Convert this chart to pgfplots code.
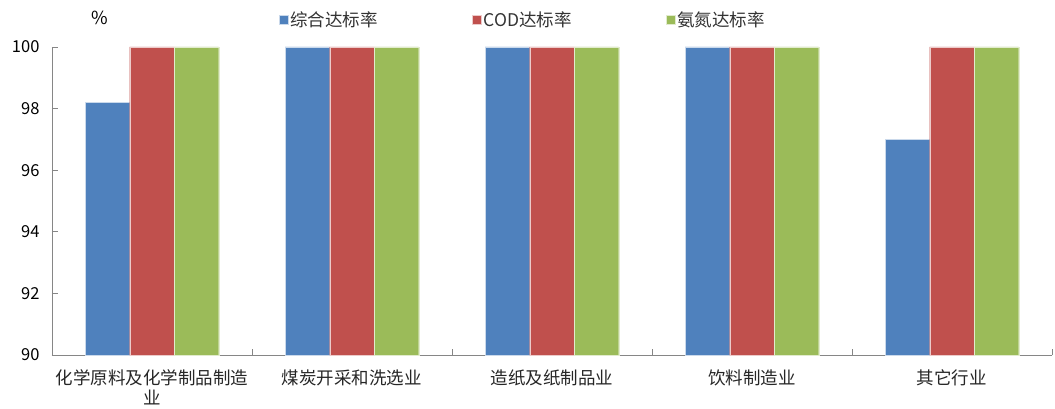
\documentclass[border=0pt]{standalone}
\usepackage{fontspec}
\setmainfont{Noto Sans CJK SC}
\usepackage{pgfplots}
\pgfplotsset{compat=1.18}
\definecolor{cblue}{HTML}{4F81BD}
\definecolor{cred}{HTML}{C0504D}
\definecolor{cgreen}{HTML}{9BBB59}
\definecolor{caxis}{HTML}{868686}
\begin{document}
\begin{tikzpicture}
\begin{axis}[
  scale only axis, width=1000pt, height=308pt,
  clip=false,
  ybar=0pt, bar width=44.5pt,
  xmin=-0.5, xmax=4.5, ymin=90, ymax=100,
  ytick={90,92,...,100},
  xtick={0,...,4},
  xticklabels={{化学原料及化学制品制造\\业},煤炭开采和洗选业,造纸及纸制品业,饮料制造业,其它行业},
  minor xtick={0.5,1.5,2.5,3.5,4.5},
  major x tick style={draw=none},
  tick align=inside,
  axis x line*=bottom, axis y line*=left,
  axis line style={caxis, line width=0.9pt, -},
  tick style={caxis, line width=0.9pt},
  major tick length=6pt, minor tick length=6pt,
  /pgf/number format/assume math mode=true,
  xticklabel style={align=center, font=\fontsize{17.5}{20}\selectfont, text=black!85, yshift=-11pt},
  yticklabel style={font=\fontsize{16.5}{18}\selectfont, text=black, xshift=-9pt},
  legend columns=3,
  legend style={at={(0.224,1.088)}, anchor=west, draw=none, fill=none,
    font=\fontsize{17.5}{20}\selectfont, text=black!80,
    /tikz/every even column/.append style={column sep=0pt},
    cells={anchor=west}},
  legend image code/.code={\fill[#1] (0pt,-4.5pt) rectangle (9pt,4.5pt);},
]
\addplot[fill=cblue, draw=white!70!cblue, line width=0.3pt] coordinates {(0,98.2) (1,100) (2,100) (3,100) (4,97)};
\addplot[fill=cred, draw=white!70!cred, line width=0.3pt] coordinates {(0,100) (1,100) (2,100) (3,100) (4,100)};
\addplot[fill=cgreen, draw=white!70!cgreen, line width=0.3pt] coordinates {(0,100) (1,100) (2,100) (3,100) (4,100)};
\legend{\makebox[180pt][l]{综合达标率},\makebox[180pt][l]{COD达标率},\makebox[180pt][l]{氨氮达标率}}
\node[font=\fontsize{18}{20}\selectfont] at (rel axis cs:0.048,1.094) {\%};
\coordinate (O) at (rel axis cs:0,0);
\end{axis}
\path (O) ++(-52pt,-50pt) rectangle ++(1055pt,405pt);
\end{tikzpicture}
\end{document}
